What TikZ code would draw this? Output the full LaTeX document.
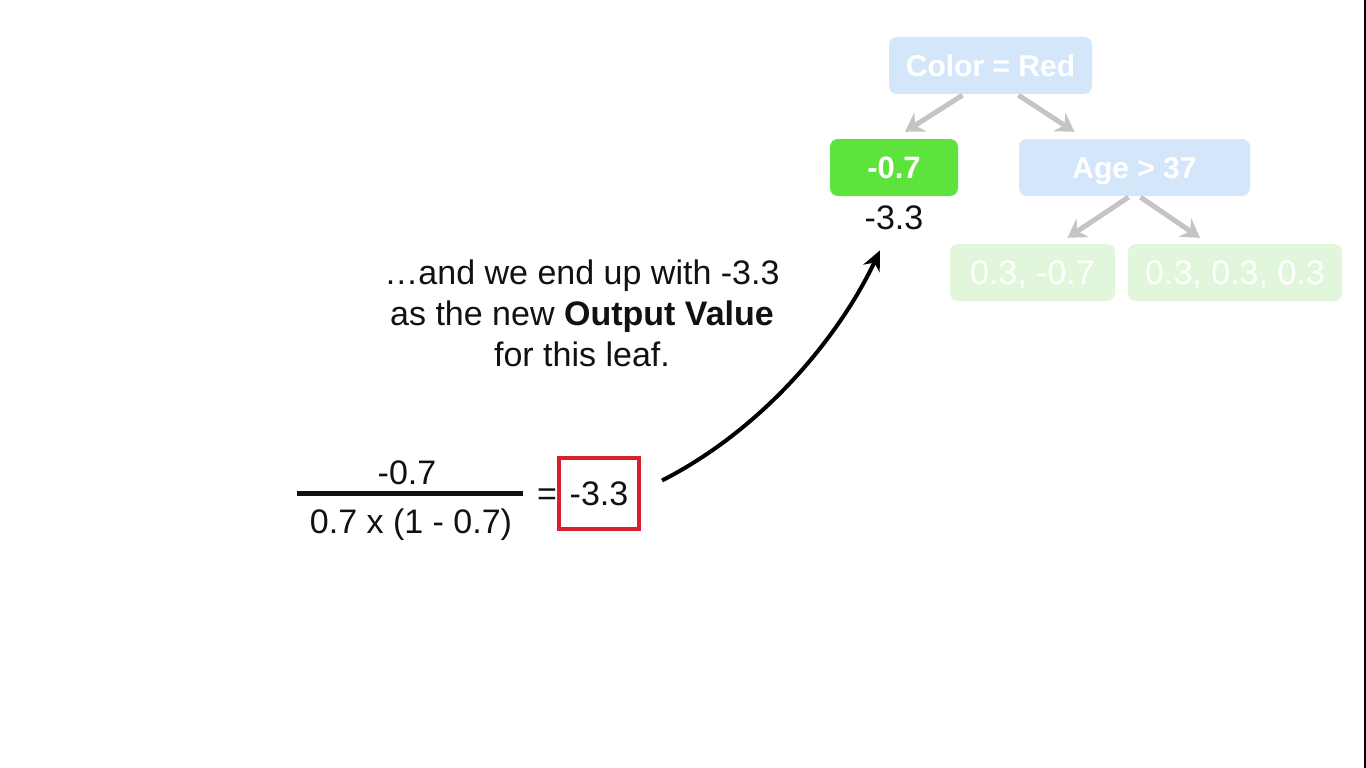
\documentclass[tikz,border=0pt]{standalone}
\usepackage{fontspec}
\setmainfont{Liberation Sans}
\usetikzlibrary{arrows.meta}
\definecolor{lblue}{HTML}{D3E6FA}
\definecolor{lgreen}{HTML}{E2F6DC}
\definecolor{bgreen}{HTML}{5EE33C}
\definecolor{agray}{HTML}{C4C4C4}
\definecolor{rred}{HTML}{D8202E}
\definecolor{txt}{HTML}{111111}
\begin{document}
\begin{tikzpicture}[x=1pt,y=-1pt,
  box/.style={rounded corners=8pt, inner sep=0pt, text=white, text depth=0pt},
  bluebox/.style={box, fill=lblue, text height=21.5pt, font=\fontsize{30}{32}\selectfont\bfseries},
  greenbox/.style={box, fill=lgreen, text height=24.3pt, font=\fontsize{34}{36}\selectfont},
  leafbox/.style={box, fill=bgreen, text height=22.2pt, font=\fontsize{31}{33}\selectfont\bfseries},
  tarrow/.style={agray, line width=5pt, -{Stealth[length=18pt,width=22pt,inset=6pt]}},
  plain/.style={text=txt, inner sep=0pt, text height=24.3pt, text depth=0pt, font=\fontsize{34}{36}\selectfont}
]
\useasboundingbox (0,0) rectangle (1366,768);
\fill[white] (0,0) rectangle (1366,768);
\draw[black, line width=2pt] (1365,0) -- (1365,768);

% tree
\node[bluebox, minimum width=203pt, minimum height=57pt] (cr) at (990.5,65.5) {Color = Red};
\node[leafbox, minimum width=128pt, minimum height=57pt] (lf) at (894,167.5) {-0.7};
\node[plain] (m33) at (894,217) {-3.3};
\node[bluebox, minimum width=231pt, minimum height=57pt] (age) at (1134.5,167.5) {Age > 37};
\node[greenbox, minimum width=165pt, minimum height=57pt] (g1) at (1032.5,272.5) {0.3, -0.7};
\node[greenbox, minimum width=214pt, minimum height=57pt] (g2) at (1235,272.5) {0.3, 0.3, 0.3};

\draw[tarrow] ([xshift=-28pt,yshift=-1pt]cr.south) -- ([xshift=11pt,yshift=7pt]lf.north);
\draw[tarrow] ([xshift=28pt,yshift=-1pt]cr.south) -- ([xshift=-60pt,yshift=7pt]age.north);
\draw[tarrow] ([xshift=-6pt,yshift=-1pt]age.south) -- ([xshift=35pt,yshift=6pt]g1.north);
\draw[tarrow] ([xshift=6pt,yshift=-1pt]age.south) -- ([xshift=-35pt,yshift=6pt]g2.north);

% text block
\node[text=txt, inner sep=0pt, align=center, font=\fontsize{34}{41}\selectfont] (msg) at (582,313)
  {\ldots and we end up with -3.3\\as the new \textbf{Output Value}\\for this leaf.};

% fraction
\node[plain] (num) at (407,472) {-0.7};
\node[plain] (den) at (411,521) {0.7 x (1 - 0.7)};
\draw[txt, line width=5pt] (297,493) -- (523,493);
\node[plain] (eq) at (547,493) {=};
\node[plain, draw=rred, line width=4pt, minimum width=80pt, minimum height=71pt] (rb) at (599,493.5) {-3.3};

% curved arrow
\draw[black, line width=4pt, -{Stealth[length=20pt,width=18pt]}]
  ([xshift=21pt,yshift=13pt]rb.east) .. controls (765,428) and (840,335) .. ([xshift=-14pt,yshift=-21pt]m33.south);
\end{tikzpicture}
\end{document}
